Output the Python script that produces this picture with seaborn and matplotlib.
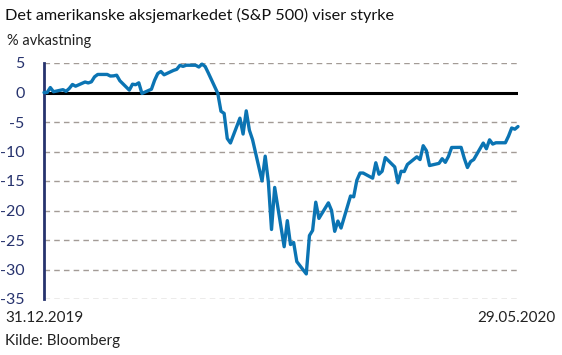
import matplotlib
matplotlib.use("Agg")
import matplotlib.pyplot as plt
import seaborn as sns
import numpy as np
import pandas as pd

# S&P 500, % avkastning since 31.12.2019 (weekdays, holidays repeat previous value)
start_date = "2019-12-31"
end_date = "2020-05-29"
returns = [
    0.00, 0.00, 0.84, 0.13, 0.48, 0.20, 0.69, 1.36, 1.07, 1.78, 1.62, 1.81, 2.66, 3.06,
    3.06, 2.79, 2.82, 2.93, 2.00, 0.40, 1.41, 1.32, 1.64, -0.16,
    0.56, 2.07, 3.22, 3.56, 3.00, 3.75, 3.93, 4.60, 4.43, 4.62, 4.62, 4.32, 4.81, 4.41,
    3.31, -0.15, -3.17, -3.54, -7.80, -8.56,
    -4.35, -7.04, -3.11, -6.40, -8.00, -14.99, -10.79, -15.15, -23.22, -16.09, -26.14,
    -21.72, -25.77, -25.42, -28.66, -30.75, -24.25, -23.38, -18.59, -21.34, -18.70, -20.00,
    -23.53, -21.79, -22.97, -17.55, -17.68, -14.88, -13.65, -13.65, -14.52, -11.91, -13.85,
    -13.35, -11.03, -12.62, -15.30, -13.35, -13.40, -12.20, -10.90, -11.37, -9.02, -9.85,
    -12.38, -12.01, -11.22, -11.84, -10.82, -9.32, -9.30, -11.16, -12.71, -11.71, -11.36,
    -8.57, -9.53, -8.02, -8.74, -8.52, -8.52, -7.40, -6.02, -6.22, -5.77,
]
y_ticks = [5, 0, -5, -10, -15, -20, -25, -30, -35]

title = "Det amerikanske aksjemarkedet (S&P 500) viser styrke"
y_title = "% avkastning"
x_left_label = "31.12.2019"
x_right_label = "29.05.2020"
source = "Kilde: Bloomberg"

dates = pd.bdate_range(start_date, end_date)
df = pd.DataFrame({"date": dates, "ret": returns})

sns.set_style("white")
plt.rcParams["font.family"] = ["Lato", "DejaVu Sans"]

navy = "#27336e"
line_col = "#0b74b3"

fig = plt.figure(figsize=(5.62, 3.55), dpi=100)
ax = fig.add_axes([44 / 562, 1 - 299 / 355, (518 - 44) / 562, (299 - 63) / 355])

for t in y_ticks:
    if t != 0:
        ax.axhline(t, color="#a39b96", lw=1.0, ls=(0, (4, 3)), zorder=1)
ax.axhline(0, color="black", lw=2.2, zorder=2)

sns.lineplot(ax=ax, data=df, x="date", y="ret", color=line_col, lw=2.4, zorder=3)
ax.lines[-1].set_clip_on(False)

ax.set_xlim(dates[0], dates[-1])
ax.set_ylim(-35, 5)
ax.set_yticks(y_ticks)
ax.set_yticklabels([str(t) for t in y_ticks])
ax.tick_params(axis="y", length=0, pad=14, labelsize=11.5, labelcolor=navy)
ax.set_xticks([])
ax.set_xlabel("")
ax.set_ylabel("")

for side in ["top", "right", "bottom"]:
    ax.spines[side].set_visible(False)
ax.spines["left"].set_color(navy)
ax.spines["left"].set_linewidth(2)

fig.text(5 / 562, 1 - 15 / 355, title, fontsize=11.7, color="#111111", va="center", ha="left")
fig.text(7 / 562, 1 - 41 / 355, y_title, fontsize=10.5, color="#222222", va="center", ha="left")
fig.text(5 / 562, 1 - 318 / 355, x_left_label, fontsize=11, color="#222222", va="center", ha="left")
fig.text(556 / 562, 1 - 318 / 355, x_right_label, fontsize=11, color="#222222", va="center", ha="right")
fig.text(5 / 562, 1 - 341 / 355, source, fontsize=11, color="#222222", va="center", ha="left")

plt.savefig("out.png", dpi=100)
